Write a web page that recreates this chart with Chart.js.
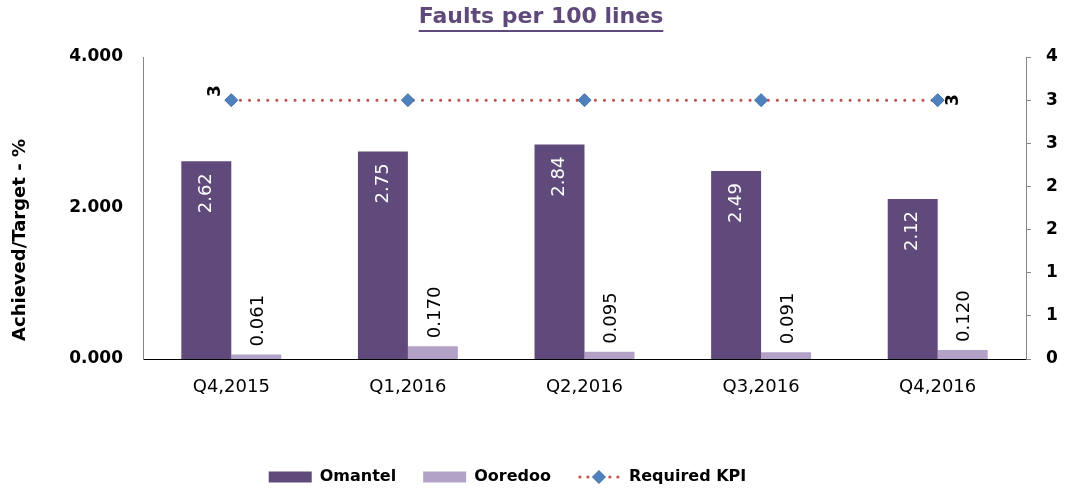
<!DOCTYPE html>
<html>
<head>
<meta charset="utf-8">
<script src="https://cdn.jsdelivr.net/npm/chart.js@4.4.1/dist/chart.umd.min.js"></script>
<style>
  html, body { margin: 0; padding: 0; background: #fff; }
</style>
</head>
<body>
<canvas id="faultsChart" width="1067" height="492"></canvas>
<script>
var quarters = ['Q4,2015', 'Q1,2016', 'Q2,2016', 'Q3,2016', 'Q4,2016'];
var omantel = [2.62, 2.75, 2.84, 2.49, 2.12];
var ooredoo = [0.061, 0.170, 0.095, 0.091, 0.120];
var requiredKpi = [3, 3, 3, 3, 3];
var leftTicks = [0, 2, 4];
var rightTicks = [0, 0.5, 1, 1.5, 2, 2.5, 3, 3.5];

var FONT = '"DejaVu Sans", sans-serif';

// value labels on bars and KPI line, drawn rotated like the excel original
var labelPlugin = {
    id: 'faultLabels',
    afterDatasetsDraw: function (chart) {
        var ctx = chart.ctx;
        ctx.save();
        ctx.textBaseline = 'middle';

        chart.getDatasetMeta(0).data.forEach(function (bar, i) {
            ctx.save();
            ctx.translate(bar.x, bar.y + 12);
            ctx.rotate(-Math.PI / 2);
            ctx.textAlign = 'right';
            ctx.fillStyle = '#ffffff';
            ctx.font = '18px ' + FONT;
            ctx.fillText(omantel[i].toFixed(2), 0, 0);
            ctx.restore();
        });

        chart.getDatasetMeta(1).data.forEach(function (bar, i) {
            ctx.save();
            ctx.translate(bar.x + 2, bar.y - 8);
            ctx.rotate(-Math.PI / 2);
            ctx.textAlign = 'left';
            ctx.fillStyle = '#000000';
            ctx.font = '18px ' + FONT;
            ctx.fillText(ooredoo[i].toFixed(3), 0, 0);
            ctx.restore();
        });

        var pts = chart.getDatasetMeta(2).data;
        var first = pts[0], last = pts[pts.length - 1];
        ctx.font = 'bold 17px ' + FONT;
        ctx.fillStyle = '#000000';
        ctx.textAlign = 'center';
        [[first, -16, -9, 0], [last, 16, 0, pts.length - 1]].forEach(function (d) {
            ctx.save();
            ctx.translate(d[0].x + d[1], d[0].y + d[2]);
            ctx.rotate(-Math.PI / 2);
            ctx.fillText(String(requiredKpi[d[3]]), 0, 0);
            ctx.restore();
        });
        ctx.restore();
    }
};

var LEGEND_SHIFT = -26;

var decorPlugin = {
    id: 'decor',
    afterLayout: function (chart) {
        var lg = chart.legend;
        lg.left += LEGEND_SHIFT;
        lg.right += LEGEND_SHIFT;
        lg.legendHitBoxes.forEach(function (h) { h.left += LEGEND_SHIFT; });
    },
    afterDraw: function (chart) {
        var ctx = chart.ctx;
        ctx.save();

        // title, underlined
        var title = 'Faults per 100 lines';
        ctx.font = 'bold 22px ' + FONT;
        ctx.fillStyle = '#5F497A';
        ctx.textAlign = 'center';
        ctx.textBaseline = 'middle';
        ctx.fillText(title, 541, 17);
        var w = ctx.measureText(title).width;
        ctx.fillRect(541 - w / 2, 30, w, 2);

        // y axis title
        ctx.save();
        ctx.translate(20, 240);
        ctx.rotate(-Math.PI / 2);
        ctx.font = 'bold 18px ' + FONT;
        ctx.fillStyle = '#000000';
        ctx.fillText('Achieved/Target - %', 0, 0);
        ctx.restore();

        // legend symbol for the KPI line
        var hb = chart.legend.legendHitBoxes[2];
        var cy = hb.top + hb.height / 2;
        var cx = hb.left + 21;
        ctx.fillStyle = '#C0504D';
        [-19, -11, 11, 19].forEach(function (dx) {
            ctx.beginPath();
            ctx.arc(cx + dx, cy, 1.6, 0, Math.PI * 2);
            ctx.fill();
        });
        ctx.beginPath();
        ctx.moveTo(cx, cy - 6.5);
        ctx.lineTo(cx + 6.5, cy);
        ctx.lineTo(cx, cy + 6.5);
        ctx.lineTo(cx - 6.5, cy);
        ctx.closePath();
        ctx.fillStyle = '#4F81BD';
        ctx.fill();
        ctx.strokeStyle = '#3F6FA8';
        ctx.lineWidth = 1;
        ctx.stroke();

        ctx.restore();
    }
};

var ctx = document.getElementById('faultsChart').getContext('2d');
new Chart(ctx, {
    type: 'bar',
    data: {
        labels: quarters,
        datasets: [{
            label: 'Omantel',
            data: omantel,
            backgroundColor: '#604A7B',
            borderWidth: 0,
            yAxisID: 'y',
            categoryPercentage: 0.566,
            barPercentage: 1
        }, {
            label: 'Ooredoo',
            data: ooredoo,
            backgroundColor: '#B3A2C7',
            borderWidth: 0,
            yAxisID: 'y',
            categoryPercentage: 0.566,
            barPercentage: 1
        }, {
            type: 'line',
            label: 'Required KPI',
            data: requiredKpi,
            yAxisID: 'y1',
            borderColor: '#C0504D',
            borderWidth: 3,
            borderDash: [0.1, 9],
            borderCapStyle: 'round',
            fill: false,
            pointStyle: 'rectRot',
            pointRadius: 6.5,
            pointBackgroundColor: '#4F81BD',
            pointBorderColor: '#3F6FA8',
            pointBorderWidth: 1
        }]
    },
    options: {
        responsive: false,
        animation: false,
        events: [],
        layout: {
            padding: { top: 57, left: 0, right: 0, bottom: -3 }
        },
        plugins: {
            title: { display: false },
            tooltip: { enabled: false },
            legend: {
                position: 'bottom',
                labels: {
                    boxWidth: 43,
                    boxHeight: 11,
                    padding: 27,
                    color: '#000000',
                    font: { family: FONT, size: 16, weight: 'bold' },
                    generateLabels: function (chart) {
                        var items = Chart.defaults.plugins.legend.labels.generateLabels(chart);
                        items[2].fillStyle = 'rgba(0,0,0,0)';
                        items[2].strokeStyle = 'rgba(0,0,0,0)';
                        items[2].lineWidth = 0;
                        return items;
                    }
                }
            }
        },
        scales: {
            x: {
                grid: { display: false, drawTicks: false },
                border: { display: true, color: '#000000', width: 1 },
                ticks: {
                    color: '#000000',
                    padding: 18,
                    maxRotation: 0,
                    font: { family: FONT, size: 18 }
                },
                afterFit: function (scale) { scale.height = 83; }
            },
            y: {
                position: 'left',
                min: 0,
                max: 4,
                grid: { display: false, drawTicks: false },
                border: { display: true, color: '#868686', width: 1 },
                afterBuildTicks: function (scale) {
                    scale.ticks = leftTicks.map(function (v) { return { value: v }; });
                },
                ticks: {
                    color: '#000000',
                    padding: 20,
                    font: { family: FONT, size: 17, weight: 'bold' },
                    callback: function (v) { return Number(v).toFixed(3); }
                },
                afterFit: function (scale) { scale.width = 143; }
            },
            y1: {
                position: 'right',
                min: 0,
                max: 3.5,
                grid: {
                    display: true,
                    drawOnChartArea: false,
                    drawTicks: true,
                    tickLength: 5,
                    color: '#868686'
                },
                border: { display: true, color: '#868686', width: 1 },
                afterBuildTicks: function (scale) {
                    scale.ticks = rightTicks.map(function (v) { return { value: v }; });
                },
                ticks: {
                    color: '#000000',
                    padding: 15,
                    font: { family: FONT, size: 17, weight: 'bold' },
                    callback: function (v) { return String(Math.round(v)); }
                },
                afterFit: function (scale) { scale.width = 41; }
            }
        }
    },
    plugins: [labelPlugin, decorPlugin]
});
</script>
</body>
</html>
